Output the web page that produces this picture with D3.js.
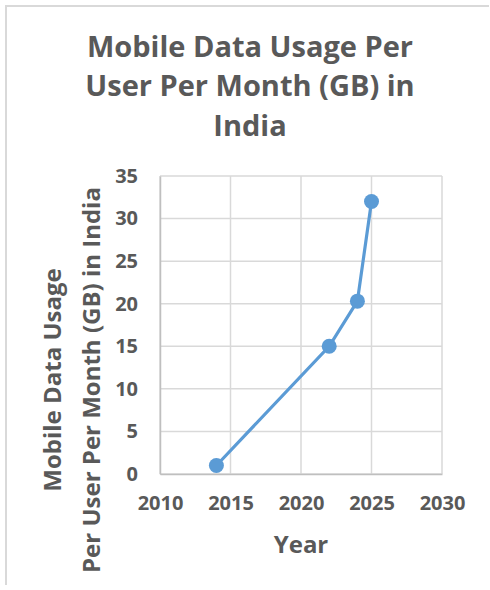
<!DOCTYPE html>
<html><head><meta charset="utf-8">
<script src="https://cdn.jsdelivr.net/npm/d3@7"></script>
<style>body{margin:0;background:#fff}svg{display:block}</style>
</head><body>
<script>
const years = [2014, 2022, 2024, 2025];
const usage = [1, 15, 20.3, 32];
const xTicks = [2010, 2015, 2020, 2025, 2030];
const yTicks = [0, 5, 10, 15, 20, 25, 30, 35];
const titleLines = ["Mobile Data Usage Per", "User Per Month (GB) in", "India"];
const yTitleLines = ["Mobile Data Usage", "Per User Per Month (GB) in India"];
const xTitle = "Year";

const W = 490, H = 590;
const font = "'Open Sans', sans-serif";
const grey = "#595959";
const svg = d3.select("body").append("svg").attr("width", W).attr("height", H);

// outer border (partial, as in reference)
svg.append("path").attr("d", "M6,585 V6 H489").attr("fill", "none")
  .attr("stroke", "#d9d9d9").attr("stroke-width", 2);

const x = d3.scaleLinear().domain([2010, 2030]).range([160, 442]);
const y = d3.scaleLinear().domain([0, 35]).range([474, 176]);

// gridlines
svg.append("g").selectAll("line").data(yTicks).join("line")
  .attr("x1", 160).attr("x2", 442).attr("y1", d => y(d)).attr("y2", d => y(d))
  .attr("stroke", "#d9d9d9").attr("stroke-width", 1.5);
svg.append("g").selectAll("line").data(xTicks).join("line")
  .attr("y1", 176).attr("y2", 474).attr("x1", d => x(d)).attr("x2", d => x(d))
  .attr("stroke", "#d9d9d9").attr("stroke-width", 1.5);

// axes tick labels via d3 axes
const xAxis = svg.append("g").attr("transform", "translate(0,474)")
  .call(d3.axisBottom(x).tickValues(xTicks).tickFormat(d3.format("d")).tickSize(0).tickPadding(22));
xAxis.select(".domain").attr("stroke", "#bfbfbf").attr("stroke-width", 1.5);
xAxis.selectAll("text").attr("font-family", font).attr("font-weight", 700)
  .attr("font-size", 20).attr("fill", grey);

const yAxis = svg.append("g").attr("transform", "translate(160,0)")
  .call(d3.axisLeft(y).tickValues(yTicks).tickSize(0).tickPadding(22));
yAxis.select(".domain").attr("stroke", "#bfbfbf").attr("stroke-width", 1.5);
yAxis.selectAll("text").attr("font-family", font).attr("font-weight", 700)
  .attr("font-size", 20).attr("fill", grey);

// line + markers
const data = years.map((yr, i) => ({yr, v: usage[i]}));
svg.append("path").datum(data)
  .attr("d", d3.line().x(d => x(d.yr)).y(d => y(d.v)))
  .attr("fill", "none").attr("stroke", "#5b9bd5").attr("stroke-width", 3.2);
svg.append("g").selectAll("circle").data(data).join("circle")
  .attr("cx", d => x(d.yr)).attr("cy", d => y(d.v)).attr("r", 7.5)
  .attr("fill", "#5b9bd5");

// title
svg.append("g").selectAll("text").data(titleLines).join("text")
  .attr("x", 250).attr("y", (d, i) => 57 + i * 39.3)
  .attr("text-anchor", "middle").attr("font-family", font).attr("font-weight", 700)
  .attr("font-size", 29).attr("fill", grey).text(d => d);

// x title
svg.append("text").attr("x", 301).attr("y", 553).attr("text-anchor", "middle")
  .attr("font-family", font).attr("font-weight", 700).attr("font-size", 24)
  .attr("fill", grey).text(xTitle);

// y title
svg.append("g").selectAll("text").data(yTitleLines).join("text")
  .attr("transform", (d, i) => `translate(${61 + i * 39},380) rotate(-90)`)
  .attr("text-anchor", "middle").attr("font-family", font).attr("font-weight", 700)
  .attr("font-size", 24).attr("fill", grey).text(d => d);
</script>
</body></html>
